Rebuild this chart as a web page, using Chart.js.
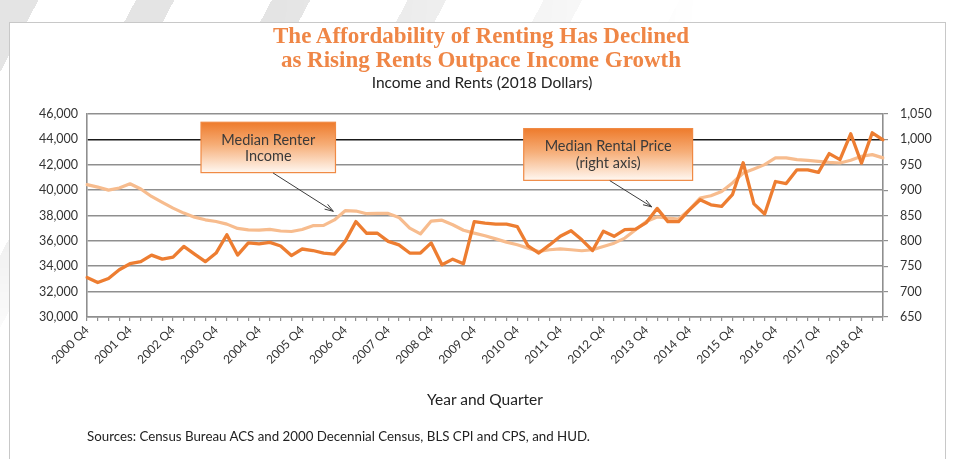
<!DOCTYPE html>
<html>
<head>
<meta charset="utf-8">
<script src="https://cdn.jsdelivr.net/npm/chart.js@4"></script>
<style>
  html, body { margin: 0; padding: 0; width: 954px; height: 459px; overflow: hidden; background: #fff; }
  #stripes { position: absolute; left: 0; top: 0; width: 954px; height: 459px;
    background: repeating-linear-gradient(118deg, #e4e4e4 0 34px, #ffffff 34px 120px);
    -webkit-mask-image: radial-gradient(ellipse 700px 360px at 0 0, #000 40%, transparent 100%);
    mask-image: radial-gradient(ellipse 700px 360px at 0 0, #000 40%, transparent 100%); }
  #frame { position: absolute; left: 9px; top: 22px; width: 935px; height: 460px; border: 1.5px solid #c8c8c8; background: #fff; }
  #c { position: absolute; left: 0; top: 0; }
  .t { position: absolute; left: 0; width: 954px; text-align: center; white-space: nowrap; }
  #title1, #title2 { font-family: "Liberation Serif", serif; font-weight: bold; font-size: 23px; color: #ef8646; }
  #title1 { top: 23px; left: 4px; }
  #title2 { top: 47px; left: 4px; }
  #sub { top: 73px; left: 5px; font-family: Lato, sans-serif; font-size: 15.5px; color: #222; }
  #xt { top: 390px; left: 8px; font-family: Lato, sans-serif; font-size: 15.5px; color: #222; }
  #src { position: absolute; left: 87px; top: 428px; font-family: Lato, sans-serif; font-size: 13.3px; color: #222; white-space: nowrap; }
</style>
</head>
<body>
<div id="stripes"></div>
<div id="frame"></div>
<canvas id="c" width="954" height="459"></canvas>
<div class="t" id="title1">The Affordability of Renting Has Declined</div>
<div class="t" id="title2">as Rising Rents Outpace Income Growth</div>
<div class="t" id="sub">Income and Rents (2018 Dollars)</div>
<div class="t" id="xt">Year and Quarter</div>
<div id="src">Sources: Census Bureau ACS and 2000 Decennial Census, BLS CPI and CPS, and HUD.</div>
<script>
const categories = [
  "2000 Q4",
  "2001 Q1","2001 Q2","2001 Q3","2001 Q4",
  "2002 Q1","2002 Q2","2002 Q3","2002 Q4",
  "2003 Q1","2003 Q2","2003 Q3","2003 Q4",
  "2004 Q1","2004 Q2","2004 Q3","2004 Q4",
  "2005 Q1","2005 Q2","2005 Q3","2005 Q4",
  "2006 Q1","2006 Q2","2006 Q3","2006 Q4",
  "2007 Q1","2007 Q2","2007 Q3","2007 Q4",
  "2008 Q1","2008 Q2","2008 Q3","2008 Q4",
  "2009 Q1","2009 Q2","2009 Q3","2009 Q4",
  "2010 Q1","2010 Q2","2010 Q3","2010 Q4",
  "2011 Q1","2011 Q2","2011 Q3","2011 Q4",
  "2012 Q1","2012 Q2","2012 Q3","2012 Q4",
  "2013 Q1","2013 Q2","2013 Q3","2013 Q4",
  "2014 Q1","2014 Q2","2014 Q3","2014 Q4",
  "2015 Q1","2015 Q2","2015 Q3","2015 Q4",
  "2016 Q1","2016 Q2","2016 Q3","2016 Q4",
  "2017 Q1","2017 Q2","2017 Q3","2017 Q4",
  "2018 Q1","2018 Q2","2018 Q3","2018 Q4",
  "2019 Q1","2019 Q2"
];

// Median renter income (left axis, 2018 dollars)
const renterIncome = [
  40430,
  40240, 40000, 40170, 40500,
  40090, 39500, 39030, 38580,
  38190, 37870, 37660, 37530,
  37320, 36980, 36870, 36840,
  36900, 36780, 36740, 36900,
  37200, 37220, 37650, 38380,
  38350, 38140, 38170, 38160,
  37850, 37000, 36550, 37560,
  37630, 37270, 36840, 36610,
  36400, 36160, 35900, 35690,
  35430, 35160, 35300, 35370,
  35300, 35220, 35300, 35560,
  35820, 36220, 36870, 37530,
  37880, 37800, 37720, 38460,
  39380, 39560, 39900, 40560,
  41350, 41670, 42010, 42540,
  42540, 42400, 42350, 42270,
  42190, 42140, 42350, 42670,
  42800, 42540
];

// Median rental price (right axis, 2018 dollars)
const rentalPrice = [
  728,
  718, 726, 743, 755,
  759, 772, 764, 768,
  789, 774, 759, 776,
  812, 772, 796, 794,
  797, 790, 771, 784,
  781, 776, 774, 799,
  838, 815, 815, 799,
  792, 776, 776, 796,
  753, 764, 755, 838,
  835, 833, 833, 828,
  790, 776, 792, 809,
  820, 802, 781, 819,
  809, 822, 823, 836,
  864, 838, 838, 861,
  881, 871, 868, 891,
  954, 873, 853, 917,
  913, 940, 940, 935,
  972, 960, 1011, 953,
  1013, 999
];

const incomeTicks = { min: 30000, max: 46000, step: 2000 };
const rentTicks = { min: 650, max: 1050, step: 50 };

const ORANGE = '#ed7d31';
const LIGHT = '#f7bc8e';
const GRID = '#8f8f8f';

const fmt = v => Number(v).toLocaleString('en-US');

const annotations = {
  id: 'annotations',
  afterDatasetsDraw(chart) {
    const { ctx, scales: { x, yL } } = chart;
    const X = v => x.getPixelForValue(v);
    const Y = v => yL.getPixelForValue(v);

    function box(i0, i1, v0, v1, lines, lineY) {
      const l = X(i0), r = X(i1), t = Y(v0), b = Y(v1);
      const g = ctx.createLinearGradient(0, t, 0, b);
      g.addColorStop(0, '#ee7b2c');
      g.addColorStop(0.45, '#f6ae78');
      g.addColorStop(1, '#fff8f2');
      ctx.save();
      ctx.fillStyle = g;
      ctx.fillRect(l, t, r - l, b - t);
      ctx.strokeStyle = '#f08a44';
      ctx.lineWidth = 1.2;
      ctx.strokeRect(l, t, r - l, b - t);
      ctx.fillStyle = '#3a3a3a';
      ctx.font = '14.5px Lato, sans-serif';
      ctx.textAlign = 'center';
      ctx.textBaseline = 'middle';
      lines.forEach((s, k) => ctx.fillText(s, (l + r) / 2, t + lineY[k]));
      ctx.restore();
    }
    function arrow(i0, v0, i1, v1) {
      const x0 = X(i0), y0 = Y(v0), x1 = X(i1), y1 = Y(v1);
      const a = Math.atan2(y1 - y0, x1 - x0);
      ctx.save();
      ctx.strokeStyle = '#3c3c3c';
      ctx.lineWidth = 1;
      ctx.beginPath();
      ctx.moveTo(x0, y0);
      ctx.lineTo(x1, y1);
      ctx.stroke();
      const L = 9, w = 0.32;
      ctx.beginPath();
      ctx.moveTo(x1 - L * Math.cos(a - w), y1 - L * Math.sin(a - w));
      ctx.lineTo(x1, y1);
      ctx.lineTo(x1 - L * Math.cos(a + w), y1 - L * Math.sin(a + w));
      ctx.stroke();
      ctx.restore();
    }
    box(10.6, 23.1, 45350, 41380, ['Median Renter', 'Income'], [18, 34]);
    arrow(17.3, 41350, 22.9, 38330);
    box(40.6, 56.3, 44850, 40770, ['Median Rental Price', '(right axis)'], [18, 35]);
    arrow(48.6, 40750, 52.5, 38680);
  }
};

new Chart(document.getElementById('c'), {
  type: 'line',
  data: {
    labels: categories,
    datasets: [
      { label: 'Median Rental Price', data: rentalPrice, yAxisID: 'yR', borderColor: ORANGE, borderWidth: 3.3,
        pointRadius: 0, tension: 0, borderJoinStyle: 'round', borderCapStyle: 'round', order: 0 },
      { label: 'Median Renter Income', data: renterIncome, yAxisID: 'yL', borderColor: LIGHT, borderWidth: 3.2,
        pointRadius: 0, tension: 0, borderJoinStyle: 'round', borderCapStyle: 'round', order: 1 }
    ]
  },
  options: {
    responsive: false,
    animation: false,
    events: [],
    layout: { padding: { top: 114, left: 0, right: 0, bottom: 0 } },
    plugins: { legend: { display: false }, tooltip: { enabled: false }, title: { display: false } },
    scales: {
      x: {
        type: 'category',
        offset: false,
        grid: { drawOnChartArea: false, drawTicks: true, tickLength: 4, color: GRID, lineWidth: 1.2, offset: false },
        border: { display: true, color: GRID, width: 1.6 },
        ticks: {
          autoSkip: false, maxRotation: 45, minRotation: 45, padding: 2,
          color: '#333', font: { family: 'Lato, sans-serif', size: 12 },
          callback: (v, i) => (i % 4 === 0 ? categories[i] : '')
        },
        afterFit: s => { s.height = 142; }
      },
      yL: {
        position: 'left',
        min: incomeTicks.min, max: incomeTicks.max,
        grid: {
          drawTicks: false,
          color: c => (c.tick && c.tick.value === 44000 ? '#1a1a1a' : GRID),
          lineWidth: 1.6
        },
        border: { display: true, color: GRID, width: 1.6 },
        ticks: { stepSize: incomeTicks.step, padding: 9, color: '#333', font: { family: 'Lato, sans-serif', size: 12.5 }, callback: v => fmt(v) },
        afterFit: s => { s.width = 87; }
      },
      yR: {
        position: 'right',
        min: rentTicks.min, max: rentTicks.max,
        grid: { drawOnChartArea: false, drawTicks: true, tickLength: 5, color: GRID, lineWidth: 1.2 },
        border: { display: true, color: GRID, width: 1.6 },
        ticks: { stepSize: rentTicks.step, padding: 12, color: '#333', font: { family: 'Lato, sans-serif', size: 12.5 }, callback: v => fmt(v) },
        afterFit: s => { s.width = 71; }
      }
    }
  },
  plugins: [annotations]
});
</script>
</body>
</html>
